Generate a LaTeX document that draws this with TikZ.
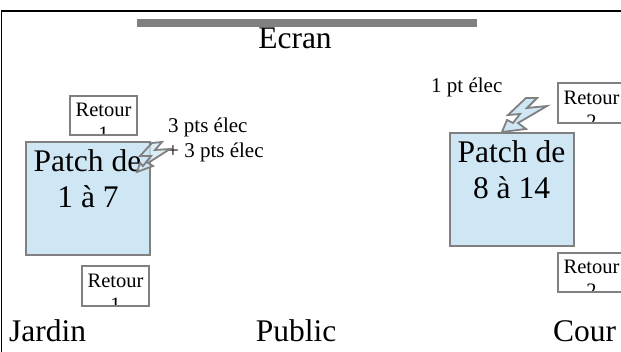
\documentclass[tikz,border=0pt]{standalone}
\usepackage{fontspec}
\setmainfont{Liberation Serif}
\definecolor{patchblue}{HTML}{CFE7F5}
\definecolor{edgegray}{HTML}{808080}
\tikzset{
  big/.style={font=\fontsize{31.5}{36}\selectfont,inner sep=0pt,anchor=base},
  small/.style={font=\fontsize{21}{24}\selectfont,inner sep=0pt,anchor=base},
  retourtext/.style={font=\fontsize{20.5}{24}\selectfont,inner sep=0pt,anchor=base},
  patchbox/.style={draw=edgegray,line width=2pt,fill=patchblue,minimum width=124pt,minimum height=113pt,inner sep=0pt},
  retourbox/.style={draw=edgegray,line width=2pt,fill=white,minimum width=67pt,minimum height=39.5pt,inner sep=0pt,
    path picture={
      \node[retourtext] at ([yshift=-21pt]path picture bounding box.north) {Retour};
      \node[retourtext] at ([yshift=-45pt]path picture bounding box.north) {#1};
    }},
  bolt/.style={draw=edgegray,line width=1.8pt,fill=patchblue,line join=miter},
}
\begin{document}
\begin{tikzpicture}[x=1pt,y=-1pt]
\useasboundingbox (0,0) rectangle (621,352);
\clip (0,0) rectangle (621,352);
\fill[white] (0,0) rectangle (621,352);
% frame
\coordinate (fa) at (1.5,352);
\coordinate (fb) at (1.5,11);
\coordinate (fc) at (621,11);
\draw[black,line width=1.2pt] (fa) -- (fb) -- (fc);
\node[big] (head) at (178,-9) {p};
% screen
\node[fill=edgegray,minimum width=340pt,minimum height=8pt,inner sep=0pt] (screen) at (307,23) {};
\node[big] (ecran) at (295,49) {Ecran};
% boxes
\node[retourbox={1}] (r1) at (103.5,115.5) {};
\node[retourbox={1}] (r2) at (115.5,286) {};
\node[retourbox={2}] (r3) at (591.5,103) {};
\node[retourbox={2}] (r4) at (591.5,272.5) {};
\node[patchbox] (p1) at (88,198.5) {};
\node[patchbox] (p2) at (511.5,189.5) {};
% labels under bolts
\node[small,anchor=base west] (l1) at (168,133) {3 pts élec};
\node[small,anchor=base west] (l2) at (167,158) {+ 3 pts élec};
\node[small,anchor=base west] (l3) at (431,93) {1 pt élec};
% patch text
\node[big] (t1) at (87.5,172) {Patch de};
\node[big] (t2) at (88,208) {1 à 7};
\node[big] (t3) at (511.5,163) {Patch de};
\node[big] (t4) at (511.5,199) {8 à 14};
% bolts
\draw[bolt,fill opacity=0.75] (152,143) -- (162,142) -- (155,150) -- (170,149) -- (148,163) -- (153,166) -- (137,172) -- (140,163) -- (143,166) -- (151,156) -- (140,156) -- cycle;
\draw[bolt] (526,98) -- (537,98) -- (527,108) -- (547,106) -- (518,123) -- (526,129) -- (502,132) -- (507,120) -- (513,123) -- (520,114) -- (508,115) -- cycle;
% bottom
\node[big,anchor=base west] (jardin) at (9,342) {Jardin};
\node[big] (public) at (296,342) {Public};
\node[big,anchor=base west] (cour) at (553,342) {Cour};
\end{tikzpicture}
\end{document}
